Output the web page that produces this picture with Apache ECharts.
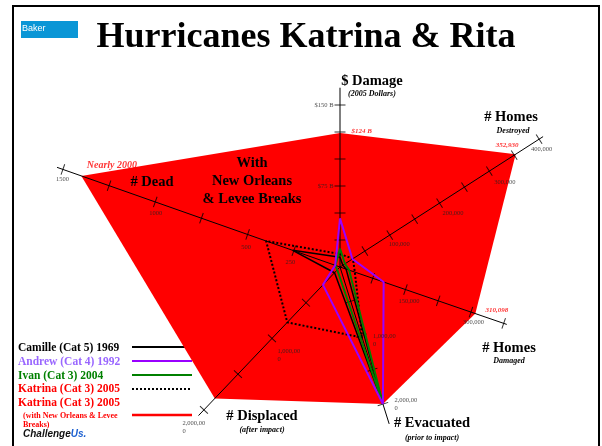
<!DOCTYPE html>
<html><head><meta charset="utf-8">
<script src="https://cdn.jsdelivr.net/npm/echarts@6/dist/echarts.min.js"></script>
<style>html,body{margin:0;padding:0;background:#fff}#c{width:602px;height:446px}</style>
</head><body><div id="c"></div>
<script>
// ---------- DATA ----------
const axisTitles = ['$ Damage', '# Homes', '# Homes', '# Evacuated', '# Displaced', '# Dead'];
const axisSubtitles = ['(2005 Dollars)', 'Destroyed', 'Damaged', '(prior to impact)', '(after impact)', ''];
const seriesNames = ['Camille (Cat 5) 1969', 'Andrew (Cat 4) 1992', 'Ivan (Cat 3) 2004', 'Katrina (Cat 3) 2005', 'Katrina (Cat 3) 2005'];
const leveeNote = ['(with New Orleans & Levee', 'Breaks)'];
const overlayNote = ['With', 'New Orleans', '& Levee Breaks'];
// values per axis: damage ($B), homes destroyed, homes damaged, evacuated, displaced, dead
const camille = [9, 5662, 13915, 2000000, 80000, 256];
const andrew = [45, 25000, 100000, 2000000, 250000, 26];
const ivan = [17, 10000, 21000, 2000000, 40000, 25];
const katrina = [12, 26000, 34000, 1030000, 775000, 400];
const katrinaLevee = [124, 352930, 310098, 2000000, 1840000, 1400];
const katrinaLeveeLabels = ['$124 B', '352,930', '310,098', '', '', 'Nearly 2000'];
const tickSteps = [25, 50000, 75000, 500000, 500000, 250];
const tickMax = [150, 400000, 375000, 2000000, 2000000, 1500];
const tickLabelValues = [[150, 75], [100000, 200000, 300000, 400000], [150000, 300000], [1000000, 2000000], [1000000, 2000000], [250, 500, 1000, 1500]];
const tickLabelTexts = [['$150 B', '$75 B'], ['100,000', '200,000', '300,000', '400,000'], ['150,000', '300,000'], ['1,000,00\n0', '2,000,00\n0'], ['1,000,00\n0', '2,000,00\n0'], ['250', '500', '1000', '1500']];

// ---------- LAYOUT ----------
const CX = 340, CY = 267, R = 300;
const axisAngle = [90, 32.7, 341, 287.4, 226.4, 160.6];
const axisPxPerUnit = [162 / 150, 236.6 / 400000, 138.5 / 300000, 143.6 / 2000000, 197.3 / 2000000, 293.8 / 1500];
const axisLineEnd = [166, 408000, 382000, 2290000, 2080000, 1540];
const tickLabelOffsets = [[[-6, 1], [-6, 1]], [[10, 10], [14, 11], [16, 12], [3, 11]], [[4, 12], [3, 11]], [[12, 5], [12, 1]], [[6, 17], [-21, 18]], [[-3, 12], [-1, 13], [1, 12], [0, 10]]];
const tickLabelAlign = ['right', 'center', 'center', 'left', 'left', 'center'];
const leveeLabelOffsets = [[12, -1], [-8, -9], [22, -3], [0, 0], [0, 0], [31, -10]];
const leveeLabelAlign = ['left', 'center', 'center', 'center', 'center', 'center'];
const leveeLabelSize = [7, 7, 7, 7, 7, 10];
const axisTitlePos = [[372, 81], [511, 117], [509, 348], [432, 423], [262, 416], [152, 182]];
const axisSubPos = [[372, 94], [513, 131], [509, 361], [432, 438], [262, 430], null];

const SERIF = '"Liberation Serif", "Times New Roman", serif';
const SANS = '"Liberation Sans", Arial, sans-serif';

function pt(i, v) { return [v * axisPxPerUnit[i], axisAngle[i]]; }
function ring(vals) { const a = vals.map((v, i) => pt(i, v)); a.push(a[0].slice()); return a; }

const series = [];
// filled Katrina with levee breaks polygon
series.push({
  type: 'custom', coordinateSystem: 'polar', z: 1, silent: true, animation: false,
  data: katrinaLevee.map((v, i) => pt(i, v)),
  renderItem: function (params, api) {
    if (params.dataIndex !== 0) return null;
    const pts = katrinaLevee.map((v, i) => api.coord(pt(i, v)));
    return { type: 'polygon', shape: { points: pts }, style: { fill: '#ff0000' } };
  }
});
// axes, ticks, tick labels
axisAngle.forEach((a, i) => {
  series.push({
    type: 'line', coordinateSystem: 'polar', z: 3, silent: true, symbol: 'none', animation: false,
    data: [pt(i, 0), pt(i, axisLineEnd[i])], lineStyle: { color: '#000', width: 1 }
  });
  const ticks = [];
  for (let v = tickSteps[i]; v <= tickMax[i] + 1e-6; v += tickSteps[i]) ticks.push(pt(i, v));
  series.push({
    type: 'scatter', coordinateSystem: 'polar', z: 3, silent: true, animation: false,
    symbol: 'rect', symbolSize: [1, 11], symbolRotate: a, itemStyle: { color: '#000' }, data: ticks
  });
  series.push({
    type: 'scatter', coordinateSystem: 'polar', z: 6, silent: true, animation: false,
    symbolSize: 1, itemStyle: { color: 'rgba(0,0,0,0)' },
    data: tickLabelValues[i].map((v, k) => ({
      value: pt(i, v),
      label: { show: true, formatter: tickLabelTexts[i][k], position: tickLabelOffsets[i][k], align: tickLabelAlign[i], verticalAlign: 'middle' }
    })),
    label: { fontFamily: SERIF, fontSize: 6.5, color: '#222', lineHeight: 8 }
  });
});
// outline series
const lineDefs = [
  { vals: katrina, color: '#000', width: 2, type: 'dotted' },
  { vals: camille, color: '#000', width: 1.5, type: 'solid' },
  { vals: ivan, color: '#008000', width: 2, type: 'solid' },
  { vals: andrew, color: '#9900ff', width: 2, type: 'solid' }
];
lineDefs.forEach(d => {
  series.push({
    type: 'line', coordinateSystem: 'polar', z: 4, silent: true, symbol: 'none', animation: false,
    data: ring(d.vals), lineStyle: { color: d.color, width: d.width, type: d.type }
  });
});
// red value labels
series.push({
  type: 'scatter', coordinateSystem: 'polar', z: 6, silent: true, animation: false,
  symbolSize: 1, itemStyle: { color: 'rgba(0,0,0,0)' },
  data: katrinaLevee.map((v, i) => ({
    value: pt(i, v),
    label: { show: katrinaLeveeLabels[i] !== '', formatter: katrinaLeveeLabels[i], position: leveeLabelOffsets[i], align: leveeLabelAlign[i], verticalAlign: 'middle', fontSize: leveeLabelSize[i] }
  })),
  label: { fontFamily: SERIF, fontWeight: 'bold', fontStyle: 'italic', color: '#ff0000' }
});

// ---------- GRAPHIC TEXT ----------
const g = [];
g.push({ type: 'rect', z: 20, shape: { x: 13, y: 6, width: 586, height: 470 }, style: { fill: 'rgba(0,0,0,0)', stroke: '#000', lineWidth: 2 } });
g.push({ type: 'rect', z: 20, shape: { x: 21, y: 21, width: 57, height: 17 }, style: { fill: '#0a96d6' } });
g.push({ type: 'text', z: 21, x: 22, y: 29, style: { text: 'Baker', fill: '#fff', font: '9px ' + SANS, verticalAlign: 'middle' } });
g.push({ type: 'text', z: 21, x: 306, y: 38, style: { text: 'Hurricanes Katrina & Rita', fill: '#000', font: 'bold 36px ' + SERIF, align: 'center', verticalAlign: 'middle' } });
axisTitles.forEach((t, i) => {
  g.push({ type: 'text', z: 21, x: axisTitlePos[i][0], y: axisTitlePos[i][1], style: { text: t, fill: '#000', font: 'bold 14.5px ' + SERIF, align: 'center', verticalAlign: 'middle' } });
  if (axisSubPos[i]) g.push({ type: 'text', z: 21, x: axisSubPos[i][0], y: axisSubPos[i][1], style: { text: axisSubtitles[i], fill: '#000', font: 'italic bold 8px ' + SERIF, align: 'center', verticalAlign: 'middle' } });
});
const overlayY = [163, 181, 199];
overlayNote.forEach((t, k) => g.push({ type: 'text', z: 21, x: 252, y: overlayY[k], style: { text: t, fill: '#000', font: 'bold 14.5px ' + SERIF, align: 'center', verticalAlign: 'middle' } }));
// legend
const legendY = [348, 362, 376, 389, 403];
const legendTextColor = ['#000', '#9966ff', '#008000', '#ff0000', '#ff0000'];
const legendLineY = [347, 361, 375, 389, 415];
const legendLineStyle = [
  { stroke: '#000', lineWidth: 2 }, { stroke: '#9900ff', lineWidth: 2 }, { stroke: '#008000', lineWidth: 2 },
  { stroke: '#000', lineWidth: 2, lineDash: [2, 2] }, { stroke: '#ff0000', lineWidth: 2.5 }
];
seriesNames.forEach((n, k) => {
  g.push({ type: 'text', z: 21, x: 18, y: legendY[k], style: { text: n, fill: legendTextColor[k], font: 'bold 11.5px ' + SERIF, verticalAlign: 'middle' } });
  g.push({ type: 'line', z: 0, shape: { x1: 132, y1: legendLineY[k], x2: 192, y2: legendLineY[k] }, style: legendLineStyle[k] });
});
g.push({ type: 'text', z: 21, x: 23, y: 416, style: { text: leveeNote[0], fill: '#ff0000', font: 'bold 8px ' + SERIF, verticalAlign: 'middle' } });
g.push({ type: 'text', z: 21, x: 23, y: 425, style: { text: leveeNote[1], fill: '#ff0000', font: 'bold 8px ' + SERIF, verticalAlign: 'middle' } });
g.push({ type: 'text', z: 21, x: 23, y: 434, style: { text: '{a|Challenge}{b|Us.}', rich: { a: { fill: '#111', font: 'italic bold 10px ' + SANS }, b: { fill: '#1a5fd0', font: 'italic bold 10px ' + SANS } }, verticalAlign: 'middle' } });

const chart = echarts.init(document.getElementById('c'));
chart.setOption({
  animation: false,
  backgroundColor: '#fff',
  polar: { center: [CX, CY], radius: R },
  angleAxis: { type: 'value', min: 0, max: 360, startAngle: 0, clockwise: false, show: false },
  radiusAxis: { type: 'value', min: 0, max: R, show: false },
  series: series,
  graphic: g
});
</script>
</body></html>
